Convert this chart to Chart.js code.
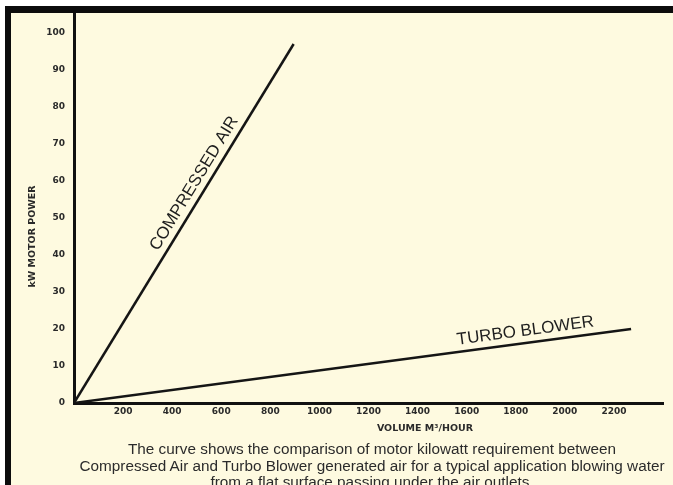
<!DOCTYPE html>
<html>
<head>
<meta charset="utf-8">
<script src="https://cdn.jsdelivr.net/npm/chart.js@4"></script>
<style>
  html, body { margin: 0; padding: 0; background: #fff; }
  #wrap { position: relative; width: 673px; height: 485px; overflow: hidden; }
  #myChart { position: absolute; left: 0; top: 0; }
  #caption {
    position: absolute; left: 62px; top: 441px; width: 620px;
    font: 15.3px "Liberation Sans", Arial, sans-serif; line-height: 16.5px;
    color: #2b2b2b; text-align: center; white-space: nowrap;
  }
</style>
</head>
<body>
<div id="wrap">
  <canvas id="myChart" width="673" height="485"></canvas>
  <div id="caption">The curve shows the comparison of motor kilowatt requirement between<br>Compressed Air and Turbo Blower generated air for a typical application blowing water<br>from a flat surface passing under the air outlets.</div>
</div>
<script>
// data (volume m3/hour -> kW)
const seriesNames = ["COMPRESSED AIR", "TURBO BLOWER"];
const compressedAir = [{x: 0, y: 0}, {x: 895, y: 97}];
const turboBlower = [{x: 0, y: 0}, {x: 2270, y: 20}];
const xTicks = [200, 400, 600, 800, 1000, 1200, 1400, 1600, 1800, 2000, 2200];
const yTicks = [0, 10, 20, 30, 40, 50, 60, 70, 80, 90, 100];
const xTitle = "VOLUME M\u00B3/HOUR";
const yTitle = "kW MOTOR POWER";

const tickFont = {family: "DejaVu Sans", size: 9, weight: "bold"};

/* frame: white strip, black top/left border, cream paper */
const framePlugin = {
    id: 'frame',
    beforeDraw(chart) {
        let c = chart.ctx;
        c.save();
        c.fillStyle = '#ffffff';
        c.fillRect(0, 0, chart.width, chart.height);
        c.fillStyle = '#fefae0';
        c.fillRect(5, 6, chart.width, chart.height);
        c.fillStyle = '#0c0c0c';
        c.fillRect(5, 6, chart.width, 7);
        c.fillRect(5, 6, 6, chart.height);
        c.restore();
    }
};

/* labels along each line + axis titles placed through the scales */
const labelPlugin = {
    id: 'lineLabels',
    afterDatasetsDraw(chart) {
        let c = chart.ctx;
        let where = [0.594, 0.813];   // fraction along the line
        c.save();
        c.fillStyle = '#1e1e1e';
        c.font = '17px "Liberation Sans", Arial, sans-serif';
        c.textAlign = 'center';
        c.textBaseline = 'middle';
        chart.data.datasets.forEach(function (ds, i) {
            let pts = chart.getDatasetMeta(i).data;
            let p0 = pts[0], p1 = pts[pts.length - 1];
            let ang = Math.atan2(p1.y - p0.y, p1.x - p0.x);
            let px = p0.x + (p1.x - p0.x) * where[i];
            let py = p0.y + (p1.y - p0.y) * where[i];
            // move a bit above the line
            px += Math.sin(ang) * 12;
            py -= Math.cos(ang) * 12;
            c.save();
            c.translate(px, py);
            c.rotate(ang);
            c.fillText(seriesNames[i], 0, 0);
            c.restore();
        });

        let xs = chart.scales.x, ys = chart.scales.y;
        c.fillStyle = '#2a2a2a';
        c.font = 'bold 9.5px "DejaVu Sans", sans-serif';
        c.fillText(xTitle, xs.getPixelForValue(1430), 429);
        c.save();
        c.translate(33, ys.getPixelForValue(45));
        c.rotate(-Math.PI / 2);
        c.fillText(yTitle, 0, 0);
        c.restore();
        c.restore();
    }
};

let ctx = document.getElementById("myChart");
let myChart = new Chart(ctx, {
    type: 'line',
    data: {
        datasets: [{
            label: seriesNames[0],
            data: compressedAir,
            borderColor: '#151515',
            borderWidth: 2.5,
            pointRadius: 0
        }, {
            label: seriesNames[1],
            data: turboBlower,
            borderColor: '#151515',
            borderWidth: 2.5,
            pointRadius: 0
        }]
    },
    options: {
        responsive: false,
        animation: false,
        layout: {padding: {left: 11, top: 13, right: 10, bottom: 0}},
        plugins: {legend: {display: false}, tooltip: {enabled: false}},
        scales: {
            x: {
                type: 'linear',
                min: 0,
                max: 2400,
                afterBuildTicks: function (scale) { scale.ticks = xTicks.map(v => ({value: v})); },
                afterFit: function (scale) { scale.height = 82; },
                grid: {display: false, drawTicks: false},
                border: {display: true, color: '#111', width: 3},
                ticks: {font: tickFont, color: '#2a2a2a', padding: 3, maxRotation: 0, autoSkip: false,
                        callback: v => String(v)}
            },
            y: {
                type: 'linear',
                min: 0,
                max: 105,
                afterBuildTicks: function (scale) { scale.ticks = yTicks.map(v => ({value: v})); },
                afterFit: function (scale) { scale.width = 63; },
                grid: {display: false, drawTicks: false},
                border: {display: true, color: '#111', width: 3},
                ticks: {font: tickFont, color: '#2a2a2a', padding: 9, autoSkip: false,
                        callback: v => String(v)}
            }
        }
    },
    plugins: [framePlugin, labelPlugin]
});
</script>
</body>
</html>
